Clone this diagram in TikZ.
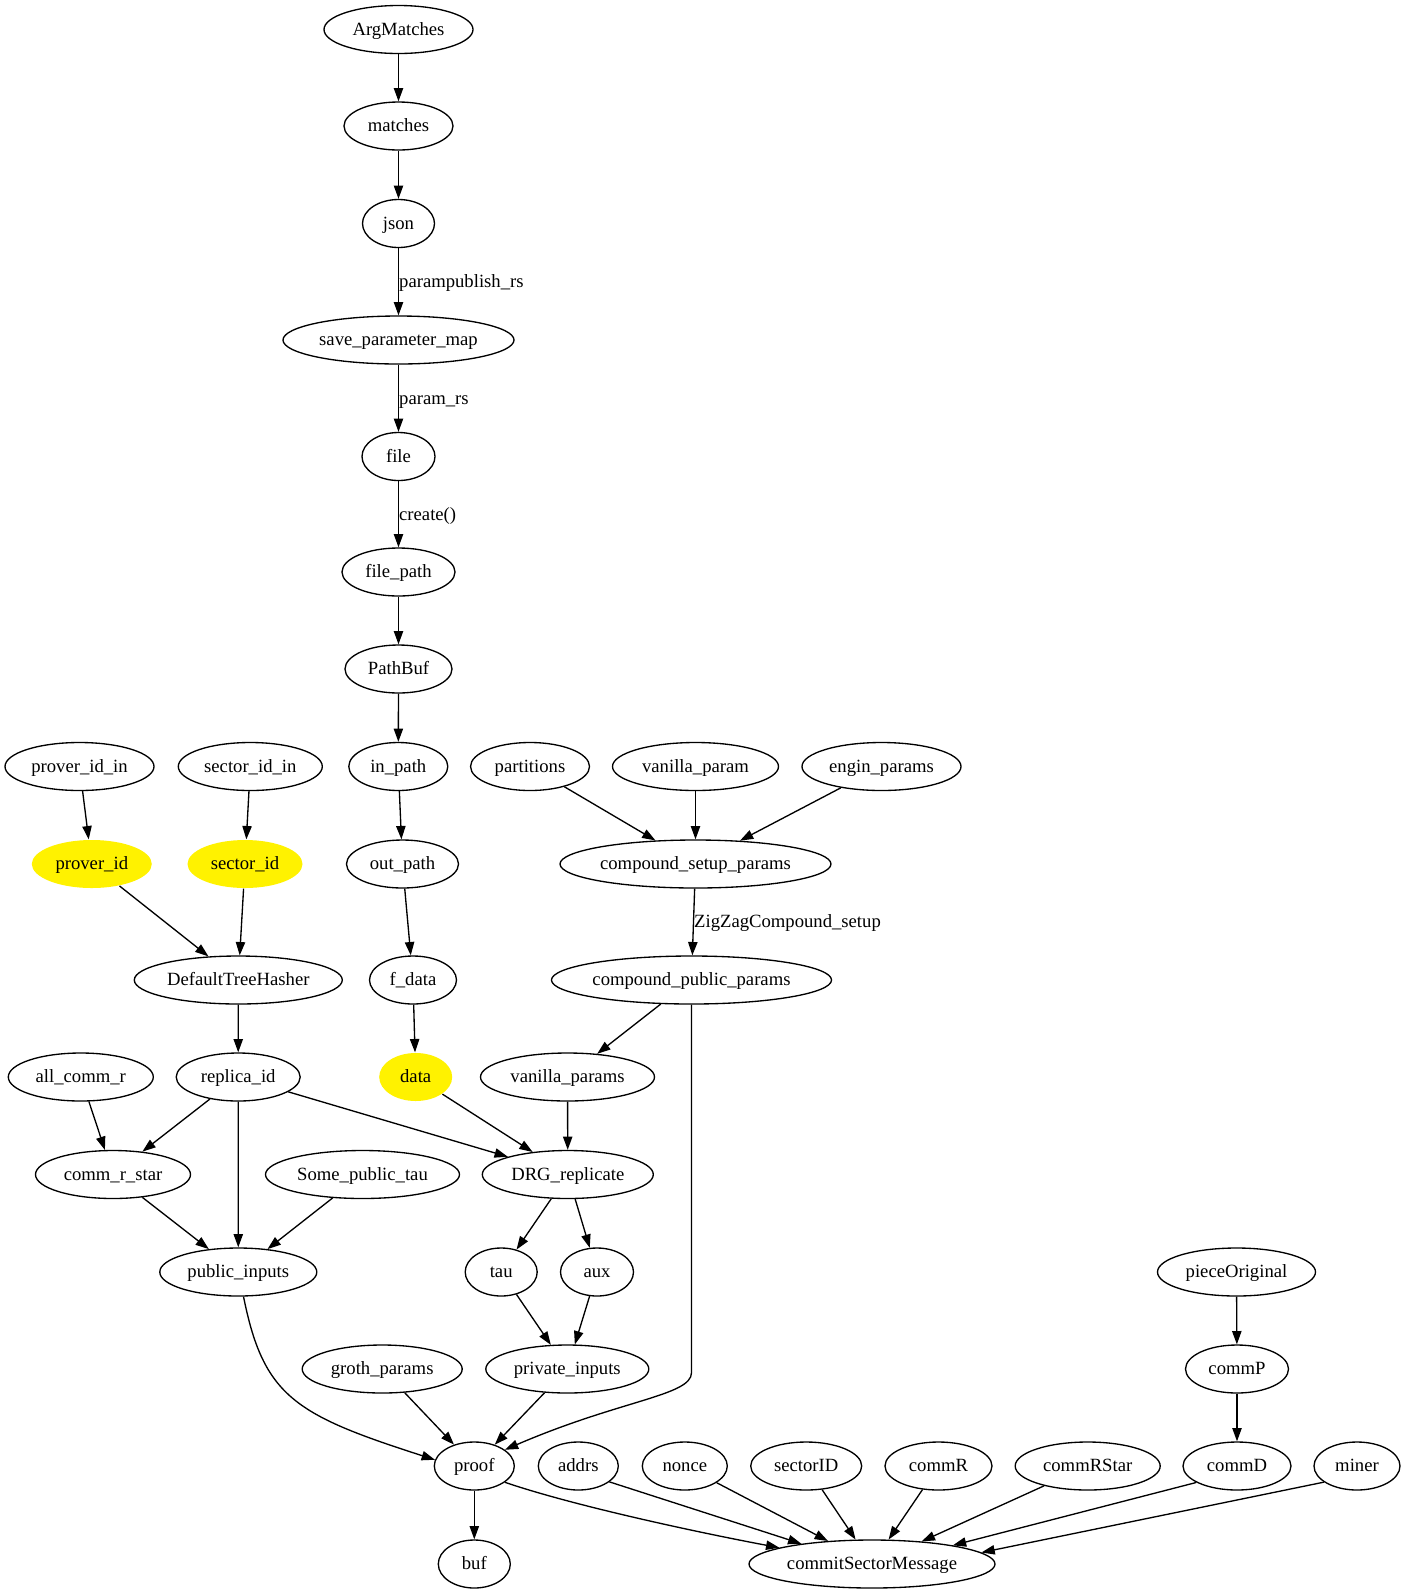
\documentclass[tikz,border=0pt]{standalone}
\usepackage{fontspec}
\setmainfont{Liberation Serif}
\usetikzlibrary{shapes.geometric,arrows.meta}
\begin{document}
\begin{tikzpicture}[x=0.75pt,y=-0.75pt,
  txt/.style={font=\fontsize{14}{16}\selectfont, text height=11.8pt, text depth=3pt},
  nd/.style={ellipse, draw, line width=1pt, inner sep=0pt, minimum height=36pt, txt},
  w/.style={minimum width=#1*0.75pt},
  hl/.style={nd, draw=none, fill=yellow},
  edge/.style={line width=1pt, -{Triangle[length=10pt,width=7pt]}},
  lbl/.style={anchor=west, inner sep=0pt, txt}]

\fill[white] (0,0) rectangle (1405,1593);
\useasboundingbox (0,0) rectangle (1405,1593);

% central chain
\node[nd,w=149] (argm)     at (398.5,29.5)  {ArgMatches};
\node[nd,w=109] (matches)  at (398.5,126)   {matches};
\node[nd,w=72]  (json)     at (398.5,223.5) {json};
\node[nd,w=231] (savemap)  at (398.5,340)   {save\_parameter\_map};
\node[nd,w=73]  (file)     at (398.5,456.5) {file};
\node[nd,w=113] (filepath) at (398.5,572)   {file\_path};
\node[nd,w=107] (pathbuf)  at (398.5,669)   {PathBuf};
\node[nd,w=99]  (inpath)   at (398.3,766.5) {in\_path};
\node[nd,w=112] (outpath)  at (402.5,864)   {out\_path};
\node[nd,w=87]  (fdata)    at (413,980)     {f\_data};
\node[hl,w=73]  (data)     at (415.7,1077)  {data};

% replica id branch
\node[nd,w=149] (proverin)  at (79.5,766.5)  {prover\_id\_in};
\node[nd,w=144] (sectorin)  at (250.3,766.5) {sector\_id\_in};
\node[hl,w=120] (prover)    at (91.8,864)    {prover\_id};
\node[hl,w=115] (sector)    at (245,864)     {sector\_id};
\node[nd,w=208] (dth)       at (238.3,980)   {DefaultTreeHasher};
\node[nd,w=145] (allcommr)  at (80.8,1077)   {all\_comm\_r};
\node[nd,w=124] (replica)   at (238.2,1077)  {replica\_id};
\node[nd,w=155] (commrstar) at (113,1174.5)  {comm\_r\_star};
\node[nd,w=194] (sometau)   at (362.5,1174.5) {Some\_public\_tau};
\node[nd,w=157] (pubin)     at (238.3,1272)  {public\_inputs};

% parameter branch
\node[nd,w=119] (partitions) at (530,766.5)   {partitions};
\node[nd,w=166] (vparam)     at (695.5,766.5) {vanilla\_param};
\node[nd,w=159] (engin)      at (881.5,766.5) {engin\_params};
\node[nd,w=271] (csp)        at (695.5,864)   {compound\_setup\_params};
\node[nd,w=280] (cpp)        at (691.5,980)   {compound\_public\_params};
\node[nd,w=174] (vparams)    at (567.5,1077)  {vanilla\_params};
\node[nd,w=171] (drg)        at (567.8,1174.5) {DRG\_replicate};
\node[nd,w=72]  (tau)        at (501.2,1272)  {tau};
\node[nd,w=73]  (aux)        at (597,1272)    {aux};
\node[nd,w=160] (groth)      at (382.2,1369)  {groth\_params};
\node[nd,w=163] (privin)     at (567.3,1369)  {private\_inputs};

% proof and commit message
\node[nd,w=80]  (proof)     at (474.3,1466)  {proof};
\node[nd,w=72]  (buf)       at (474.3,1564)  {buf};
\node[nd,w=80]  (addrs)     at (578.3,1466)  {addrs};
\node[nd,w=85]  (nonce)     at (684.8,1466)  {nonce};
\node[nd,w=111] (sectorID)  at (806.2,1466)  {sectorID};
\node[nd,w=107] (commR)     at (938.5,1466)  {commR};
\node[nd,w=145] (commRStar) at (1087.7,1466) {commRStar};
\node[nd,w=108] (commD)     at (1237,1466)   {commD};
\node[nd,w=86]  (miner)     at (1357,1466)   {miner};
\node[nd,w=246] (csm)       at (872,1564)    {commitSectorMessage};
\node[nd,w=158] (piece)     at (1236.5,1272) {pieceOriginal};
\node[nd,w=103] (commP)     at (1237,1369)   {commP};

% connectors
\draw[edge] (argm) -- (matches);
\draw[edge] (matches) -- (json);
\draw[edge] (json) -- node[lbl]{parampublish\_rs} (savemap);
\draw[edge] (savemap) -- node[lbl]{param\_rs} (file);
\draw[edge] (file) -- node[lbl]{create()} (filepath);
\draw[edge] (filepath) -- (pathbuf);
\draw[edge] (pathbuf) -- (inpath);
\draw[edge] (inpath) -- (outpath);
\draw[edge] (outpath) -- (fdata);
\draw[edge] (fdata) -- (data);

\draw[edge] (proverin) -- (prover);
\draw[edge] (sectorin) -- (sector);
\draw[edge] (prover) -- (dth);
\draw[edge] (sector) -- (dth);
\draw[edge] (dth) -- (replica);
\draw[edge] (allcommr) -- (commrstar);
\draw[edge] (replica) -- (commrstar);
\draw[edge] (replica) -- (pubin);
\draw[edge] (replica) -- (drg);
\draw[edge] (commrstar) -- (pubin);
\draw[edge] (sometau) -- (pubin);

\draw[edge] (partitions) -- (csp);
\draw[edge] (vparam) -- (csp);
\draw[edge] (engin) -- (csp);
\draw[edge] (csp) -- node[lbl]{ZigZagCompound\_setup} (cpp);
\draw[edge] (cpp) -- (vparams);
\draw[edge] (data) -- (drg);
\draw[edge] (vparams) -- (drg);
\draw[edge] (drg) -- (tau);
\draw[edge] (drg) -- (aux);
\draw[edge] (tau) -- (privin);
\draw[edge] (aux) -- (privin);

\draw[edge] (groth) -- (proof);
\draw[edge] (privin) -- (proof);
\draw[edge] (pubin.-78) .. controls +(20,100) and +(-140,-45) .. (proof.171);
\draw[edge] (cpp.south) -- ++(0,368) .. controls +(0,23) and +(116,-50) .. (proof.28);
\draw[edge] (proof) -- (buf);

\draw[edge] (proof.-28) .. controls +(70,24) and +(-75,-14) .. (csm.170);
\draw[edge] (addrs.-27) -- (csm.164);
\draw[edge] (nonce) -- (csm);
\draw[edge] (sectorID) -- (csm);
\draw[edge] (commR) -- (csm);
\draw[edge] (commRStar) -- (csm);
\draw[edge] (commD.-158) -- (csm.13);
\draw[edge] (miner.-154) -- (csm.6);
\draw[edge] (piece) -- (commP);
\draw[edge] (commP) -- (commD);
\end{tikzpicture}
\end{document}
